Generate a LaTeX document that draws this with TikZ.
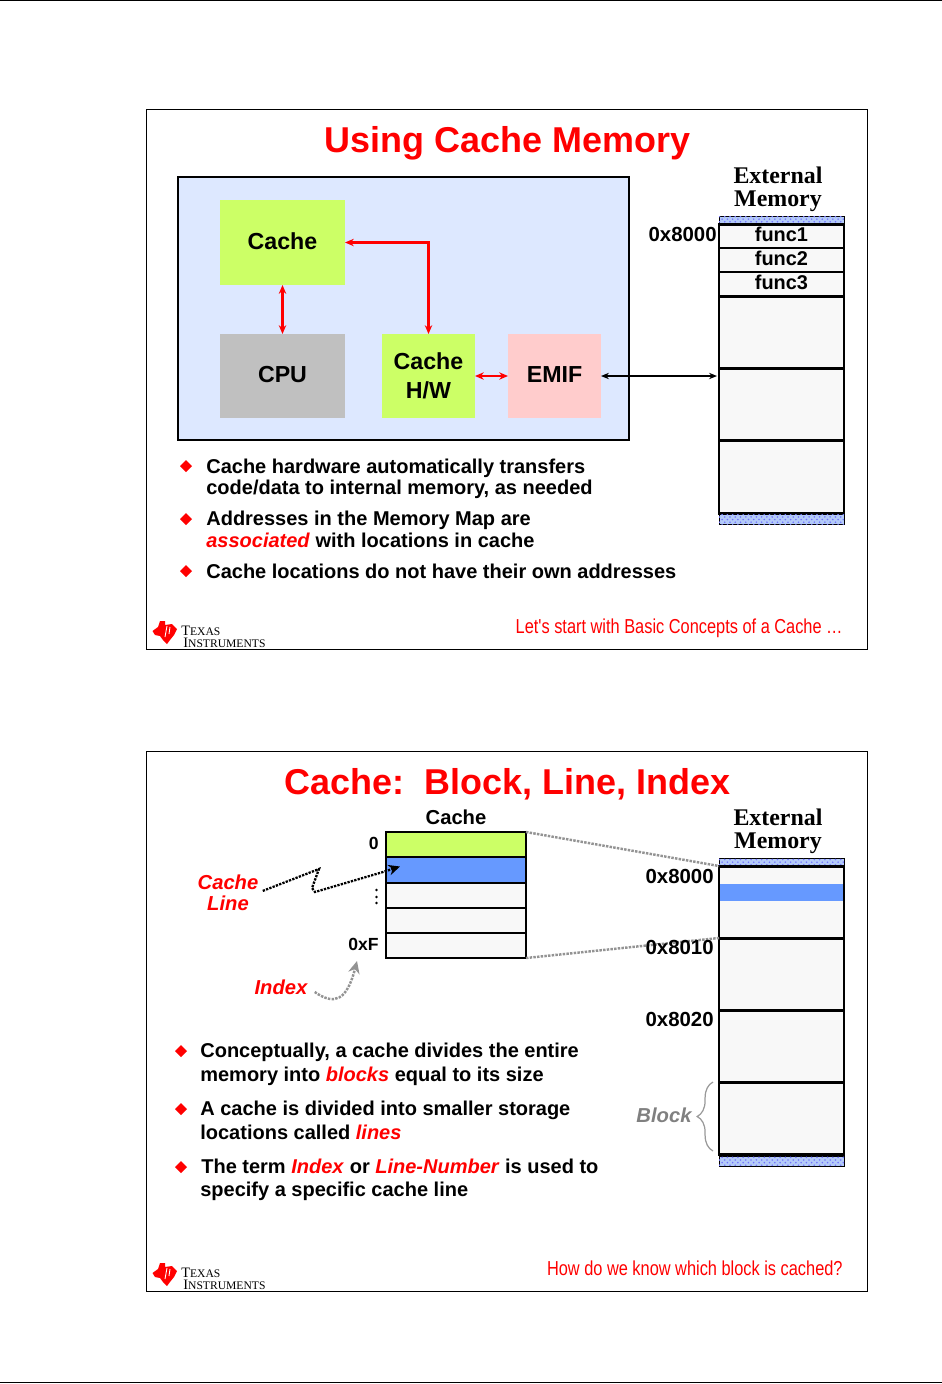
\documentclass[tikz,border=0pt]{standalone}
\usepackage{fontspec}
\setmainfont{Liberation Sans}
\newfontfamily\serifhead{Liberation Serif}
\newfontfamily\footfont[FakeStretch=0.81]{Liberation Sans}
\usetikzlibrary{arrows.meta,shapes.geometric,patterns,decorations.pathreplacing}
\definecolor{tired}{HTML}{FF0000}
\definecolor{chipbg}{HTML}{DDE8FF}
\definecolor{cachegreen}{HTML}{CCFF66}
\definecolor{cpugray}{HTML}{C0C0C0}
\definecolor{emifpink}{HTML}{FFCCCC}
\definecolor{lineblue}{HTML}{6699FF}
\definecolor{cellgray}{HTML}{F8F8F8}
\definecolor{hatchblue}{HTML}{B4CBF8}
\newcommand{\hot}[1]{\textcolor{tired}{\textit{#1}}}
\newcommand{\lift}[1]{\raisebox{1.5pt}{#1}}
\tikzset{
  sized/.style 2 args={minimum width=#1*0.02cm,minimum height=#2*0.02cm,inner sep=0pt,outer sep=0pt},
  hwbox/.style={font=\bfseries\fontsize{13.2}{16.5}\selectfont,align=center},
  bullet/.style={diamond,fill=tired,sized={12}{12}},
  bodyline/.style={anchor=base west,inner sep=0pt,font=\bfseries\fontsize{11.38}{13}\selectfont},
  addrlabel/.style={anchor=base east,inner sep=0pt,font=\bfseries\fontsize{11.6}{13}\selectfont},
  memhead/.style={inner sep=0pt,align=center,font=\serifhead\bfseries\fontsize{13.6}{13}\selectfont},
  cellbox/.style={fill=cellgray,draw=black,line width=1.7pt},
  funcbox/.style={fill=cellgray,draw=black,line width=0.9pt,font=\bfseries\fontsize{11.34}{13}\selectfont},
  hatchbar/.style={draw=black,line width=0.5pt,fill=hatchblue,postaction={pattern=crosshatch dots,pattern color=blue!55}},
  redlink/.style={draw=tired,line width=1.2pt,{Stealth[length=5pt,width=4.2pt]}-{Stealth[length=5pt,width=4.2pt]}},
  grayguide/.style={draw=gray!85,line width=1.4pt,dash pattern=on 1.4pt off 0.7pt},
  callout/.style={inner sep=0pt,align=center,text=tired,font=\bfseries\itshape\fontsize{11.5}{12.2}\selectfont},
}
\begin{document}
\begin{tikzpicture}[x=0.02cm,y=-0.02cm]
\useasboundingbox (0,0) rectangle (942,1384);
\draw[line width=0.6pt] (0,0.5) -- (942,0.5);
\draw[line width=0.6pt] (0,1382.5) -- (942,1382.5);
% frames, logos
\foreach \yo/\foot/\fx in {0/{Let's start with Basic Concepts of a Cache \dots}/843, 642/{How do we know which block is cached?}/843}{
  \begin{scope}[shift={(0,\yo)}]
  \draw[line width=0.6pt] (146.5,109.5) rectangle (867.5,649.5);
  \fill[tired] (152.5,631) -- (158,627) -- (160,621) -- (165,621) -- (165,625) -- (172,624) -- (177,629) -- (174,635) -- (170,640) -- (167,644) -- (163,640) -- (160,636) -- (155,635) -- cycle;
  \draw[white,line width=0.5pt] (167,626) -- (165,637) (170,627) -- (169,634);
  \node[anchor=base west,inner sep=0pt,font=\serifhead\fontsize{8.2}{8}\selectfont] (texas\yo) at (181,635) {T\fontsize{6.6}{8}\selectfont EXAS};
  \node[anchor=base west,inner sep=0pt,font=\serifhead\fontsize{8.2}{8}\selectfont] (instr\yo) at (183,647) {I\fontsize{6.6}{8}\selectfont NSTRUMENTS};
  \node[anchor=base east,inner sep=0pt,text=tired,font=\footfont\fontsize{11.5}{13}\selectfont] (foot\yo) at (\fx,633) {\foot};
  \node[memhead,anchor=center] (exthead\yo) at (778,189.5) {External\\Memory};
  \end{scope}
}
% first slide
\node[inner sep=0pt,text=tired,font=\bfseries\fontsize{20.45}{24}\selectfont] (titleone) at (507.5,143) {Using Cache Memory};
\node[draw=black,line width=1.6pt,fill=chipbg,sized={451}{263}] (chip) at (403.5,308.5) {};
\node[hwbox,fill=cachegreen,sized={125}{85}] (cache) at (282.5,242.5) {\lift{Cache}};
\node[hwbox,fill=cpugray,sized={125}{84}] (cpu) at (282.5,376) {\lift{CPU}};
\node[hwbox,fill=cachegreen,sized={93}{84}] (hw) at (428.5,376) {Cache\\H/W};
\node[hwbox,fill=emifpink,sized={93}{84}] (emif) at (554.5,376) {\lift{EMIF}};
\draw[redlink] (cache.south) -- (cpu.north);
\draw[redlink] (cache.east) -| (hw.north);
\draw[redlink] (hw.east) -- (emif.west);
\node[hatchbar,sized={125}{8}] (topbar) at (781.5,220) {};
\foreach \n/\yc in {func1/236,func2/260,func3/284}
  \node[funcbox,sized={125}{24}] (\n) at (781.5,\yc) {\lift{\n}};
\foreach \n/\yc/\hh in {blocka/332/72,blockb/404/72,blockc/476.5/73}
  \node[cellbox,sized={125}{\hh}] (\n) at (781.5,\yc) {};
\draw[black,line width=1.7pt] (func1.north west) rectangle (blockc.south east);
\node[hatchbar,sized={125}{10}] (botbar) at (781.5,519) {};
\coordinate (memport) at (717,376);
\draw[line width=0.8pt,{Stealth[length=4.5pt,width=3.6pt]}-{Stealth[length=4.5pt,width=3.6pt]}] (emif.east) -- (memport);
\node[addrlabel] (addrfunc) at (717,241) {0x8000};
\node[bullet] (bua) at (186,466) {};
\node[bodyline] (txa) at (206,473) {Cache hardware automatically transfers};
\node[bodyline] (txb) at (206,494) {code/data to internal memory, as needed};
\node[bullet] (bub) at (186,519) {};
\node[bodyline] (txc) at (206,525) {Addresses in the Memory Map are};
\node[bodyline] (txd) at (206,547) {\hot{associated} with locations in cache};
\node[bullet] (buc) at (186,571) {};
\node[bodyline] (txe) at (206,578) {Cache locations do not have their own addresses};
% second slide
\node[inner sep=0pt,text=tired,font=\bfseries\fontsize{20.45}{24}\selectfont] (titletwo) at (507.5,784) {Cache:\ \ Block, Line, Index};
\node[inner sep=0pt,font=\bfseries\fontsize{11.5}{13}\selectfont] (cachehead) at (456,817) {Cache};
\foreach \n/\yc/\hh/\cc in {rowa/844.5/25/cachegreen,rowb/870/26/lineblue,rowc/895.5/25/cellgray,rowd/920.5/25/cellgray,rowe/945.5/25/cellgray}
  \node[draw=black,line width=1.1pt,fill=\cc,sized={140}{\hh}] (\n) at (456,\yc) {};
\draw[black,line width=1.4pt] (rowa.north west) rectangle (rowe.south east);
\node[addrlabel,font=\bfseries\fontsize{10}{13}\selectfont] (idxa) at (379,849) {0};
\node[addrlabel,font=\bfseries\fontsize{10}{13}\selectfont] (idxb) at (379,950) {0xF};
\fill (376.5,890) circle (1.4) (376.5,897) circle (1.4) (376.5,903) circle (1.4);
\node[callout] (linelabel) at (228,892.5) {Cache\\Line};
\node[callout] (indexlabel) at (281,987) {Index};
\node[callout,text=gray] (blocklabel) at (664,1115) {Block};
\coordinate (linetip) at (400,866.5);
\draw[line width=1.3pt,dash pattern=on 1.3pt off 0.7pt,shorten <=2.5pt,-{Stealth[length=6.5pt,width=6pt]}] (linelabel.east) -- (319,869) -- (312,888) -- (315,892) -- (383,872) -- (linetip);
\coordinate (indextip) at (357,961);
\draw[gray!85,line width=1.4pt,dash pattern=on 1.4pt off 0.7pt,-{Stealth[length=7pt,width=6.5pt]}] (indexlabel.east) ++(7,5) .. controls (335,1006) and (347,1000) .. (indextip);
\node[hatchbar,sized={125}{8}] (topbartwo) at (781.5,862) {};
\foreach \n/\yc/\hh in {blkd/902/72,blke/974/72,blkf/1046/72,blkg/1118/72}
  \node[cellbox,sized={125}{\hh}] (\n) at (781.5,\yc) {};
\node[fill=lineblue,sized={124}{17}] (band) at (782,892.5) {};
\draw[black,line width=1.7pt] (blkd.north west) rectangle (blkg.south east);
\node[hatchbar,sized={125}{10}] (botbartwo) at (781.5,1161) {};
\draw[grayguide] (rowa.north east) -- (blkd.north west);
\draw[grayguide] (rowe.south east) -- (blkd.south west);
\node[addrlabel] (addra) at (714,883) {0x8000};
\node[addrlabel] (addrb) at (714,954) {0x8010};
\node[addrlabel] (addrc) at (714,1026) {0x8020};
\coordinate (bracelow) at (713,1151);
\coordinate (bracetop) at (713,1082);
\draw[gray!80,line width=0.7pt,decorate,decoration={brace,amplitude=9pt}] (bracelow) -- (bracetop);
\node[bullet] (bud) at (181,1051) {};
\node[bodyline] (tya) at (200,1057) {Conceptually, a cache divides the entire};
\node[bodyline] (tyb) at (200,1081) {memory into \hot{blocks} equal to its size};
\node[bullet] (bue) at (181,1109) {};
\node[bodyline] (tyc) at (200,1115) {A cache is divided into smaller storage};
\node[bodyline] (tyd) at (200,1139) {locations called \hot{lines}};
\node[bullet] (buf) at (181,1167) {};
\node[bodyline] (tye) at (201,1173) {The term \hot{Index} or \hot{Line-Number} is used to};
\node[bodyline] (tyf) at (200,1196) {specify a specific cache line};
\end{tikzpicture}
\end{document}
